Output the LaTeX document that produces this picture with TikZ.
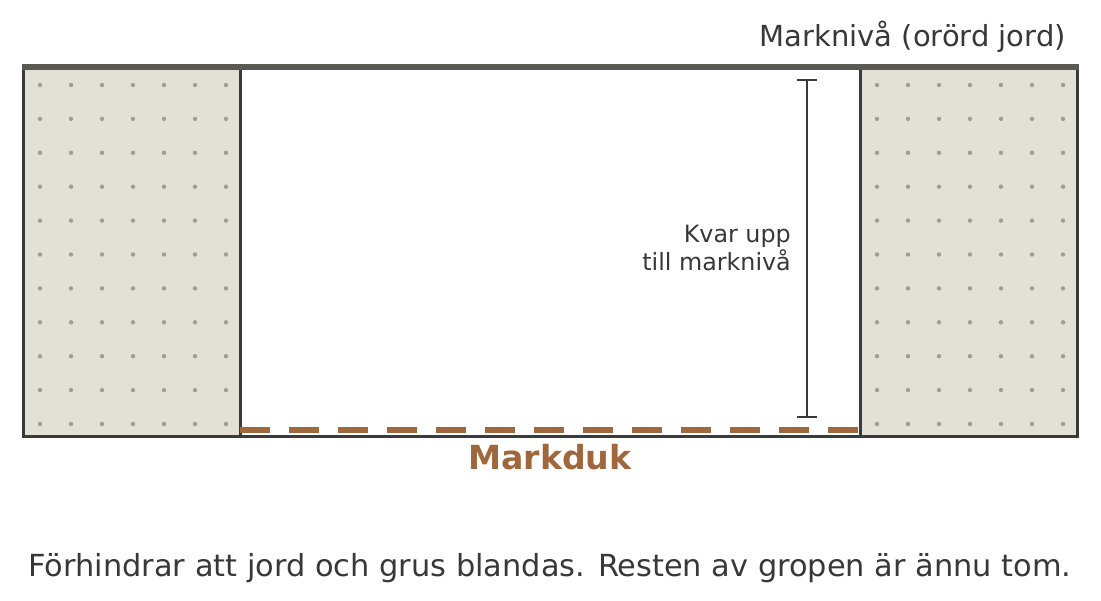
\documentclass[tikz,border=0pt]{standalone}
\usepackage{fontspec}
\setmainfont{DejaVu Sans}
\usetikzlibrary{arrows.meta}
\definecolor{soil}{HTML}{E3E0D8}
\definecolor{soildot}{HTML}{A09C96}
\definecolor{edge}{HTML}{3A3A3A}
\definecolor{ground}{HTML}{5A5A55}
\definecolor{fabric}{HTML}{A0673D}
\definecolor{txt}{HTML}{383838}
\tikzset{
  soilblock/.style={fill=soil, draw=edge, line width=3pt},
  label/.style={text=txt, inner sep=0pt}
}

\begin{document}
\begin{tikzpicture}[x=1pt,y=-1pt]
        \useasboundingbox (0,0) rectangle (1101,601);

            \filldraw[soilblock] (23,67) rectangle (240,437);
            \filldraw[soilblock] (860,67) rectangle (1077,437);

            \foreach \i in {0,...,6}{
              \foreach \j in {0,...,10}{
                \fill[soildot] (40+31*\i,85+33.9*\j) circle [radius=2.2];
                \fill[soildot] (877+31*\i,85+33.9*\j) circle [radius=2.2];
              }
            }

            \draw[edge, line width=3pt] (240,437)--(860,437);
            \draw[fabric, line width=5.5pt, dash pattern=on 30pt off 19pt] (240,430)--(858,430);
            \draw[ground, line width=6pt] (22,67)--(1079,67);

            \coordinate (dimtop) at (807,79);
            \coordinate (dimbot) at (807,418);
            \draw[edge, line width=2.2pt, {Bar[width=20pt]}-{Bar[width=20pt]}] (dimtop)--(dimbot);

            \node[label, anchor=base east, font=\fontsize{29}{34}\selectfont] (level) at (1066,47) {Marknivå (orörd jord)};
            \node[label, anchor=east, align=right, font=\fontsize{23.8}{28.5}\selectfont] (remain) at (791,248) {Kvar upp\\till marknivå};
            \node[label, text=fabric, anchor=base, font=\fontsize{33.2}{38}\bfseries\selectfont] (fabriclbl) at (550,470) {Markduk};
            \node[label, anchor=base, font=\fontsize{30.4}{36}\selectfont] (caption) at (550,576) {Förhindrar att jord och grus blandas. Resten av gropen är ännu tom.};

         % \node at (550,300) {};
        \end{tikzpicture}
\end{document}
